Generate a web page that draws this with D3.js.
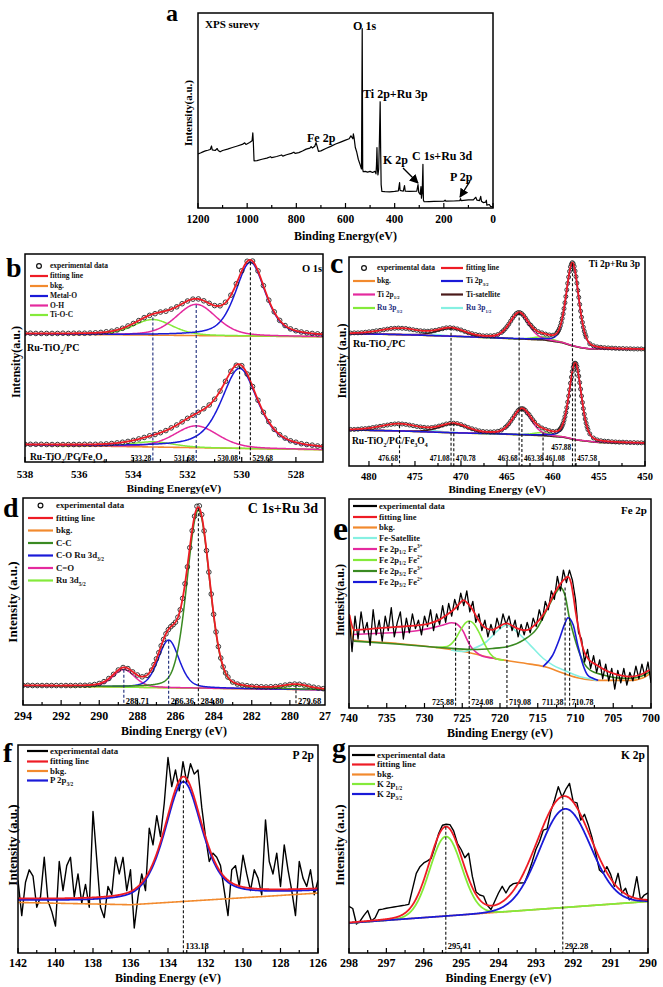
<!DOCTYPE html>
<html><head><meta charset="utf-8">
<script src="https://cdn.jsdelivr.net/npm/d3@7/dist/d3.min.js"></script>
<style>html,body{margin:0;padding:0;background:#fff;}svg{display:block;}</style>
</head><body>
<svg id="fig" width="663" height="987"></svg>
<script>
// ====================== DATA ======================
// (a) survey spectrum: [binding energy, intensity %]
const surveyData = [[1200,27.7],[1190,28.2],[1180,28.8],[1170,29.3],[1160,29.6],[1150,30.0],[1145,31.8],[1142,29.8],[1130,29.5],[1122,30.5],[1118,29.5],[1110,28.8],[1100,29.5],[1080,30.2],[1060,31],[1040,31.8],[1020,32.6],[1010,33.4],[1005,32.6],[990,33.6],[980,34.5],[977,38.5],[975,34],[972,24.2],[960,24.3],[940,25],[920,25.6],[905,26.3],[900,25.8],[880,26.4],[860,27.2],[855,26.6],[840,27.3],[820,28],[810,28.6],[805,28],[790,28.4],[775,29.2],[760,30.2],[745,30.7],[740,31.5],[735,30.8],[725,31.7],[720,33.5],[715,31.5],[710,29],[700,29.3],[680,30.5],[660,31.6],[640,32.8],[620,33.8],[600,34.8],[585,35.5],[578,37],[570,35.5],[568,38],[565,36],[560,31],[555,29],[548,25],[540,22],[535,20],[532,92],[530,20],[528,18.6],[520,18.8],[510,18.4],[500,18.8],[490,18.2],[480,18.8],[476,17.5],[474,22],[472,31],[470,20],[468,17],[465,20],[462,35],[459,54.5],[457,30],[455,12],[452,8.5],[440,8.4],[420,8.3],[400,8.5],[385,8.8],[380,13],[378,9],[365,8.6],[360,11.5],[357,8.6],[340,8.5],[310,8.6],[305,12],[302,8],[296,7],[293,11],[291,5],[288,8],[285,22.4],[283,4],[280,3.2],[260,3.3],[240,3.4],[200,3.5],[195,4],[192,3.5],[160,3.6],[135,3.8],[132,4.8],[130,3.8],[100,4.2],[80,4.2],[70,5.5],[65,4],[55,3.8],[50,6],[47,3.5],[40,2.8],[30,3],[27,4],[25,1.5],[15,1.8],[10,0.8],[0,0.5]];
const surveyTicks = [1200,1000,800,600,400,200,0];
const surveyLabels = [
  {text:"O 1s", E:569, I:91.3},
  {text:"Ti 2p+Ru 3p", E:528.7, I:56.4},
  {text:"Fe 2p", E:756.5, I:33.8},
  {text:"K 2p", E:447.4, I:22.6},
  {text:"C 1s+Ru 3d", E:329.4, I:24.6},
  {text:"P 2p", E:174.8, I:13.8}];
const surveyArrows = [{from:[366,20.5], to:[305,12.8]}, {from:[93.4,13.8], to:[134.1,5.6]}];

// (b) O 1s — experimental data on a 0.2 eV grid from 538 eV downwards
const bTopExp = [61.9,61.9,61.8,61.8,61.8,61.8,61.8,61.9,61.8,61.9,61.9,61.9,62.0,62.1,62.3,62.6,62.9,63.5,64.3,65.4,66.6,68.0,69.4,70.5,71.3,72.1,72.5,73.5,74.6,76.1,77.4,78.3,78.4,77.5,76.3,75.2,75.1,76.8,80.2,85.7,91.9,96.5,96.6,91.9,84.8,77.8,72.2,68.1,65.6,64.0,63.1,62.5,62.1,61.8,61.6,61.4];
const bBotExp = [8.5,8.5,8.5,8.5,8.4,8.4,8.4,8.4,8.4,8.4,8.4,8.5,8.5,8.5,8.6,8.7,8.9,9.2,9.5,9.9,10.4,11.1,11.8,12.6,13.2,14.1,15.1,16.4,17.8,19.3,21.0,22.5,23.9,25.6,27.4,30.2,34.1,38.8,43.6,46.5,46.3,42.3,36.3,29.7,23.9,19.4,15.7,13.1,11.5,10.2,9.5,8.8,8.4,8.1,7.7,7.5];
const bTopBkg = [[538,61.6],[527,60.2]];
const bBotBkg = [[538,8.2],[527,5.9]];
const bTopPeaks = [
  {name:"Ti-O-C", c:533.28, h:7.5, w:1.7, eta:0.3},
  {name:"O-H", c:531.68, h:15.0, w:1.75, eta:0.3},
  {name:"Metal-O", c:529.68, h:35.5, w:1.3, eta:0.5}];
const bBotPeaks = [
  {name:"Ti-O-C", c:533.28, h:2.5, w:1.8, eta:0.3},
  {name:"O-H", c:531.68, h:10.5, w:1.9, eta:0.3},
  {name:"Metal-O", c:530.08, h:38.5, w:1.6, eta:0.6}];
const bTicks = [538,536,534,532,530,528];
const bMarks = [533.28,531.68,530.08,529.68];
const bMarkTops = [69.5,75.5,46,96];

// (c) Ti 2p + Ru 3p — data on a 0.4 eV grid from 482 eV, plus denser points on the peaks
const cTopExp = [63.6,63.7,63.7,63.8,64.0,64.2,64.4,64.7,64.9,65.2,65.5,65.8,65.9,66.0,65.9,65.8,65.5,65.2,64.9,64.7,64.6,64.5,64.7,64.9,65.3,65.7,66.1,66.2,66.0,65.6,65.1,64.4,63.8,63.3,62.9,62.6,62.3,62.3,62.3,62.4,62.9,63.9,65.6,67.9,70.7,72.9,73.4,72.0,69.5,67.3,65.4,64.3,63.7,63.1,62.7,62.6,63.5,67.1,75.3,87.4,96.5,93.3,80.7,68.7,61.7,58.5,57.5,57.0,56.8,56.6,56.5,56.4,56.3,56.2,56.2,56.1,56.1,56.0,56.0,56.0,55.9];
const cTopExtra = [[459.5,64.1],[459.4,64.8],[459.3,65.8],[459.1,68.7],[459.0,70.6],[458.9,72.8],[458.7,78.1],[458.6,81.1],[458.5,84.3],[458.3,90.4],[458.2,93.1],[458.1,95.3],[457.9,97.3],[457.8,96.8],[457.7,95.5],[457.5,90.6],[457.4,87.5],[457.3,84.0],[457.1,77.3],[457.0,74.1],[456.9,71.2],[456.7,66.4],[456.6,64.5],[456.5,63.0],[465.4,64.7],[465.0,66.7],[464.6,69.3],[464.2,71.9],[463.8,73.4],[463.4,72.9],[463.0,70.8],[462.6,68.1],[462.2,66.2]];
const cBotExp = [17.5,17.5,17.6,17.8,17.9,18.1,18.4,18.7,19.0,19.3,19.6,19.9,20.1,20.2,20.1,19.9,19.6,19.3,18.9,18.7,18.5,18.3,18.4,18.7,19.1,19.6,20.1,20.4,20.5,20.3,19.8,19.1,18.4,17.8,17.3,16.8,16.5,16.4,16.3,16.4,16.6,17.2,18.4,20.2,22.7,25.3,27.3,27.3,25.4,23.3,21.0,19.3,18.2,17.5,16.9,16.5,16.6,17.7,21.9,30.6,42.5,49.2,43.0,30.4,20.5,15.4,13.4,12.5,12.1,11.9,11.8,11.6,11.5,11.4,11.4,11.3,11.2,11.2,11.1,11.1,11.1];
const cBotExtra = [[459.3,17.3],[459.1,18.4],[459.0,19.3],[458.9,20.4],[458.7,23.6],[458.6,25.6],[458.5,27.9],[458.3,33.5],[458.2,36.5],[458.1,39.6],[457.9,45.2],[457.8,47.3],[457.7,48.9],[457.5,48.9],[457.4,47.6],[457.3,45.6],[457.1,39.9],[457.0,36.8],[456.9,33.5],[456.7,27.5],[456.6,24.8],[456.5,22.5],[456.3,18.8],[456.2,17.4],[465.0,19.2],[464.6,21.4],[464.2,24.0],[463.8,26.5],[463.4,27.5],[463.0,26.6],[462.6,24.6],[462.2,22.1]];
const cTopBkg = [[482.2,63.3],[476,62.8],[470,61.9],[465,61.0],[461,60.3],[459,59.0],[458,57.6],[457,56.6],[456,56.0],[450,55.8]];
const cBotBkg = [[482.2,17.2],[476.9,16.8],[471.1,15.9],[466,15.3],[461,14.5],[458.8,13.7],[457.4,12.4],[455.2,11.3],[450,10.9]];
const cTopPeaks = [
  {name:"Ru 3p1/2", c:476.68, h:3.0, w:5.0, eta:0.3},
  {name:"Ru 3p3/2", c:461.08, h:1.5, w:2.5, eta:0.3},
  {name:"Ti-satellite", c:471.08, h:3.8, w:3.5, eta:0.3},
  {name:"Ti 2p1/2", c:463.68, h:12.3, w:2.4, eta:0.3},
  {name:"Ti 2p3/2", c:457.88, h:39.5, w:1.6, eta:0.3}];
const cBotPeaks = [
  {name:"Ru 3p1/2", c:476.68, h:3.3, w:5.0, eta:0.3},
  {name:"Ru 3p3/2", c:461.08, h:1.5, w:2.5, eta:0.3},
  {name:"Ti-satellite", c:470.78, h:4.3, w:3.5, eta:0.3},
  {name:"Ti 2p1/2", c:463.38, h:12.2, w:2.4, eta:0.3},
  {name:"Ti 2p3/2", c:457.58, h:36.5, w:1.55, eta:0.3}];
const cTicks = [480,475,470,465,460,455,450];
const cMarks = [476.68,471.08,470.78,463.68,463.38,461.08,457.88,457.58];
const cMarkTops = [19.5,66.2,20.5,73.4,27.3,16,97,49];

// (d) C 1s + Ru 3d — 0.25 eV grid from 294 eV plus flank points
const dExp = [9.5,9.5,9.4,9.4,9.4,9.4,9.4,9.4,9.4,9.4,9.4,9.4,9.5,9.5,9.6,9.9,10.4,11.3,12.8,14.8,16.9,18.1,17.6,16.0,14.5,13.6,14.3,16.9,22.3,28.6,34.4,37.8,40.0,46.0,58.6,76.0,91.2,96.2,84.1,64.2,43.8,28.2,18.4,13.5,11.1,10.1,9.6,9.3,9.0,8.9,8.8,8.7,8.8,8.9,9.2,9.6,9.9,10.1,10.0,9.6,9.1,8.6,8.2,7.9,7.7];
const dExtra = [[287.125,19.5],[286.875,25.3],[286.625,31.7],[286.375,36.4],[286.125,38.8],[285.875,42.4],[285.625,51.5],[285.375,66.7],[285.125,84.2],[284.875,96.0],[284.625,92.0],[284.375,74.6],[284.125,53.6],[283.875,35.3],[283.625,22.7],[283.375,15.5]];
const dBkg = [[294,9.3],[278,7.3]];
const dPeaks = [
  {name:"Ru 3d5/2", c:279.68, h:2.2, w:1.6, eta:0.3},
  {name:"C=O", c:288.71, h:8.5, w:1.35, eta:0.3},
  {name:"C-O", c:286.36, h:23, w:1.3, eta:0.3},
  {name:"C-C", c:284.80, h:86, w:1.4, eta:0.2}];
const dTicks = [294,292,290,288,286,284,282,280,278];
const dMarks = [288.71,286.36,284.80,279.68];
const dMarkTops = [17,31,95,9.6];

// (e) Fe 2p — experimental on a 0.4 eV grid from 740 eV; fitted curves read as points
const eExp = [45,27,44,33,46,36,41,30,47,35, 42,32,44,37,48,34,41,46,33,43, 36,45,38,42,35,44,39,47,37,45, 40,49,41,50,44,52,47,55,49,56, 46,51,41,45,37,42,34,40,35,43, 38,45,40,44,37,42,34,40,35,41, 36,43,39,47,42,51,47,56,52,63, 56,66,60,66,61,52,36,33,22,28, 19,25,17,23,14,21,13,19,9,18, 12,19,11,17,13,20,14,21,15,22, 12];
const eFit = [[739.95,44.5],[739.3,37.3],[736,38.2],[733.7,38.8],[731,39.5],[729.3,40.5],[728,42.3],[727.1,44.5],[726,47.5],[725.2,50.6],[724.85,51.6],[724.4,50.5],[723.7,47.5],[723,43],[722.4,39.8],[721.6,37.8],[721,37.4],[720.3,38.6],[719.5,40.2],[719.1,40.5],[718.5,39.6],[717.8,38.2],[716.8,37.2],[716.2,37.5],[715.4,39.8],[714.3,44.5],[713.6,48.8],[713.0,53.6],[712.4,57.3],[712.1,58.9],[711.5,61.5],[711.0,62.8],[710.6,60],[710.3,54],[710.0,46.5],[709.6,38.1],[709.0,28.5],[708.3,23.5],[707.2,20.6],[706,18],[705,16.6],[704,15.6],[702.8,15.0],[701.5,15.8],[700.2,18.2]];
const eBkg = [[739.95,44.5],[739.4,32.5],[733.7,30.9],[729.3,29.3],[724.85,27.0],[720.45,23.5],[716.0,21.0],[713.8,19.5],[711.6,16.6],[709.4,14.2],[707.2,13.2],[702.8,13.2],[701.0,14.5],[700.1,16.6]];
const eSat = [[726.5,27.8],[724.85,27.0],[723.5,28.5],[721.8,31.7],[720.45,36.5],[719.1,39.7],[717.8,36.5],[716.0,30.1],[714.3,23.8],[713,20.5],[711.6,18.2],[709.4,15.0],[708.1,14.0],[707.2,13.2]];
const eFe3p12 = [[739.4,35.2],[736,35.8],[733.7,36.1],[731,37.0],[729.3,38.1],[727.5,39.7],[726.4,40.8],[725.9,40.5],[725.5,39.5],[724.85,36.5],[724.4,33],[724.0,30.1],[723.1,26.5],[722.2,24.6],[721,23.9],[720.45,23.5]];
const eFe2p12 = [[728.5,28.9],[727.0,29.4],[726.0,32.5],[725.2,37.5],[724.6,40.6],[724.08,41.6],[723.5,40.4],[722.9,37],[722.1,31],[721.3,26],[720.5,23.6],[719.5,22.9]];
const eFe3p32 = [[739.4,32],[733.7,30.6],[729.3,29.3],[726,28.4],[723.5,28],[721,28.5],[719.1,29.3],[716.9,32.5],[715.1,38.1],[713.8,46.9],[712.7,54.4],[712.0,57.6],[711.4,54.1],[710.8,42.9],[710.1,33.3],[709.2,23.8],[708.1,18.2],[706.3,15.8],[703.7,14.2],[702,14.5],[700.1,17.4]];
const eFe2p32 = [[714.3,19.8],[713.0,25.4],[712.1,33.3],[711.4,40.5],[711.0,43.2],[710.3,39.7],[709.7,30.1],[709.0,20.6],[708.4,15.8],[707.7,14.2],[707,13.3]];
const eTicks = [740,735,730,725,720,715,710,705,700];
const eMarks = [725.88,724.08,719.08,711.38,710.78];
const eMarkTops = [40.8,41.6,39.7,57.6,43.2];

// (f) P 2p — 0.2 eV grid from 142 eV
const fExp = [35,18,34,40,37,22,27,46,25,20, 13,44,30,42,46,27,38,24,33,22, 68,45,22,17,32,28,46,38,46,30, 40,12,27,38,30,60,52,66,56,72, 94,80,88,78,92,82,91,86,88,70, 56,44,48,46,42,30,18,40,42,32, 47,38,30,40,36,28,64,44,38,48, 32,52,40,30,18,44,36,32,40,28, 35];
const fBkg = [[142,24.3],[136,23.2],[126,28.8]];
const fPeak = {name:"P 2p3/2", c:133.18, h:58.5, w:2.34, eta:0.5};
const fTicks = [142,140,138,136,134,132,130,128,126];
const fMarks = [133.18];
const fMarkTops = [83];

// (g) K 2p — 0.1 eV grid from 298 eV
const gExp = [22.5,21.5,14,15.5,18.2,20.5,15.5,17,20.9,21.2, 21.6,21.9,22.2,22.5,22.8,23.1,23.5,31,38.5,41.7, 43.5,44.5,45.7,51.3,57.7,61.7,62.2,62,59,53, 50,46,48.2,37,29.5,28,27.5,23,21,25, 29,32.2,29,32.2,33.5,33.8,33.8,34,38.6,44, 50,54,59.4,60,68.5,73.9,80.3,75.3,79,81.9, 73,72.5,64.2,67,62,56,48.2,40.1,38.5,41.7, 38,32.2,38.5,29,31.3,25.7,27.3,36.9,25.7,28, 29];
const gBkg = [[298,14.5],[290,24.9]];
const gFitPeaks = [{c:295.41, h:43, w:1.05, eta:0.1},{c:292.25, h:53.7, w:1.7, eta:0.05}];
const gComps = [{name:"K 2p1/2", c:295.41, h:38.4, w:1.0, eta:0},{name:"K 2p3/2", c:292.22, h:47.6, w:1.6, eta:0}];
const gTicks = [298,297,296,295,294,293,292,291,290];
const gMarks = [295.41,292.28];
const gMarkTops = [61,75.6];

// ====================== STYLE ======================
const FONT = "'Liberation Serif','Times New Roman',Times,serif";
const COL = {red:"#ee1c25", orange:"#f28a2e", blue:"#1a1ad8", magenta:"#e42a9e", lime:"#84ea3a",
             dgreen:"#3a8a22", cyan:"#86f0e2", sat:"#4a1a1a", black:"#111"};
const COLOR_BY = {"Metal-O":COL.blue,"O-H":COL.magenta,"Ti-O-C":COL.lime,
  "Ti 2p3/2":COL.blue,"Ti 2p1/2":COL.magenta,"Ti-satellite":COL.sat,"Ru 3p3/2":COL.lime,"Ru 3p1/2":COL.cyan,
  "C-C":COL.dgreen,"C-O":COL.blue,"C=O":COL.magenta,"Ru 3d5/2":COL.lime,
  "P 2p3/2":COL.blue,"K 2p1/2":COL.lime,"K 2p3/2":COL.blue};

const svg = d3.select("#fig");
svg.append("rect").attr("width",663).attr("height",987).attr("fill","#fff");
const defs = svg.append("defs");
defs.append("marker").attr("id","arrowhead").attr("viewBox","0 0 10 10").attr("refX",9).attr("refY",5)
  .attr("markerWidth",7).attr("markerHeight",7).attr("orient","auto")
  .append("path").attr("d","M0,0 L10,5 L0,10 z").attr("fill","#000");

// ====================== HELPERS ======================
function pv(E, p){ const t=(E-p.c)/p.w; const G=Math.exp(-2.7726*t*t); const L=1/(1+4*t*t); return p.h*(p.eta*L+(1-p.eta)*G); }
function interp(pts){ return d3.scaleLinear().domain(pts.map(d=>d[0])).range(pts.map(d=>d[1])).clamp(true); }
function rich(t, str, fs){
  let off=0;
  str.split(/(_\{[^}]*\}|\^\{[^}]*\})/).forEach(p=>{
    if(!p) return;
    let target=0, size=fs, s=p;
    if(p.startsWith("_{")){target=fs*0.3; size=fs*0.62; s=p.slice(2,-1);}
    else if(p.startsWith("^{")){target=-fs*0.42; size=fs*0.62; s=p.slice(2,-1);}
    t.append("tspan").attr("dy",target-off).attr("font-size",size).text(s);
    off=target;
  });
}
function txt(parent, x, y, str, fs, o={}){
  const t=parent.append("text").attr("x",x).attr("y",y).attr("font-family",FONT).attr("font-weight","bold")
    .attr("font-size",fs).attr("fill",o.fill||"#000").attr("text-anchor",o.anchor||"start");
  rich(t,str,fs); return t;
}
function yTitle(x, yc, s, fs){
  svg.append("text").attr("transform",`translate(${x},${yc}) rotate(-90)`).attr("text-anchor","middle")
    .attr("font-family",FONT).attr("font-weight","bold").attr("font-size",fs).text(s);
}
let clipN=0;
function panel(o){
  const x=d3.scaleLinear().domain(o.dom).range(o.range||[o.x0,o.x1]);
  const y=d3.scaleLinear().domain([0,100]).range([o.y1,o.y0]);
  const id="clip"+(clipN++);
  defs.append("clipPath").attr("id",id).append("rect").attr("x",o.x0).attr("y",o.y0).attr("width",o.x1-o.x0).attr("height",o.y1-o.y0);
  const root=svg.append("g");
  const plot=root.append("g").attr("clip-path",`url(#${id})`);
  return Object.assign({x,y,root,plot},o);
}
function frame(P){
  P.root.append("rect").attr("x",P.x0).attr("y",P.y0).attr("width",P.x1-P.x0).attr("height",P.y1-P.y0)
    .attr("fill","none").attr("stroke","#000").attr("stroke-width",1.5);
}
function xAxis(P, majors, minorStep, fs, labelY, title, titleY, titleFs){
  const lo=d3.min(majors), hi=d3.max(majors);
  const inside=v=>{const xx=P.x(v); return xx>=P.x0-0.6 && xx<=P.x1+0.6;};
  d3.range(lo, hi+1e-6, minorStep).forEach(v=>{ if(!inside(v)) return;
    const isMaj = majors.some(m=>Math.abs(m-v)<1e-6);
    P.root.append("line").attr("x1",P.x(v)).attr("x2",P.x(v)).attr("y1",P.y1).attr("y2",P.y1-(isMaj?5:3))
      .attr("stroke","#000").attr("stroke-width",1.2);
  });
  majors.forEach(v=> txt(P.root, P.x(v), labelY, String(v), fs, {anchor:"middle"}));
  txt(P.root, (P.x0+P.x1)/2, titleY, title, titleFs, {anchor:"middle"});
}
const lineGen = P => d3.line().x(d=>P.x(d[0])).y(d=>P.y(d[1]));
const smoothGen = P => d3.line().x(d=>P.x(d[0])).y(d=>P.y(d[1])).curve(d3.curveMonotoneX);
function path(P, data, color, w, gen){
  P.plot.append("path").datum(data).attr("d",(gen||lineGen(P))).attr("fill","none").attr("stroke",color)
    .attr("stroke-width",w).attr("stroke-linejoin","round");
}
function drawModel(P, bkgPts, peaks, exp, r){
  const bk=interp(bkgPts);
  const lo=d3.min(P.dom), hi=d3.max(P.dom);
  const grid=d3.range(lo, hi+0.001, 0.02);
  path(P, grid.map(E=>[E,bk(E)]), COL.orange, 1.6);
  peaks.forEach(p=> path(P, grid.map(E=>[E,bk(E)+pv(E,p)]), COLOR_BY[p.name], 1.5));
  P.plot.selectAll(null).data(exp).join("circle").attr("cx",d=>P.x(d[0])).attr("cy",d=>P.y(d[1])).attr("r",r)
    .attr("fill","none").attr("stroke","#222").attr("stroke-width",0.9);
  path(P, grid.map(E=>[E,bk(E)+d3.sum(peaks,p=>pv(E,p))]), COL.red, 1.8);
}
function marks(P, Es, tops, sides, labelY, fs, colors, extraY){
  Es.forEach((E,i)=>{
    const xx=P.x(E);
    P.root.append("line").attr("x1",xx).attr("x2",xx).attr("y1",P.y(tops[i])).attr("y2",P.y1)
      .attr("stroke",(colors&&colors[i])||"#111").attr("stroke-width",1.1).attr("stroke-dasharray","3,2");
    const yy = labelY - ((extraY&&extraY[i])||0);
    txt(P.root, sides[i]==="L"? xx-1.5 : xx+2, yy, E.toFixed(2), fs, {anchor: sides[i]==="L"?"end":"start"});
  });
}
function legend(P, items, lx0, lx1, tx, ys, fs){
  items.forEach((it,i)=>{
    const yy=ys[i];
    if(it.type==="circle"){
      P.root.append("circle").attr("cx",(lx0+lx1)/2).attr("cy",yy).attr("r",2.4).attr("fill","none").attr("stroke","#111").attr("stroke-width",1.2);
    } else {
      P.root.append("line").attr("x1",lx0).attr("x2",lx1).attr("y1",yy).attr("y2",yy).attr("stroke",it.color).attr("stroke-width",2.2);
    }
    txt(P.root, tx, yy+fs*0.33, it.label, fs, {fill: it.textColor||"#111"});
  });
}
const asPairs = (vals, start, step) => vals.map((v,i)=>[start - step*i, v]);

// ====================== (a) SURVEY ======================
{
  const P=panel({x0:198,x1:493,y0:13,y1:208,dom:[1200,0]});
  path(P, surveyData, "#000", 1.2);
  surveyLabels.forEach(l=> txt(P.root, P.x(l.E), P.y(l.I), l.text, 12));
  txt(P.root, P.x0+7, P.y0+15, "XPS surevy", 11);
  surveyArrows.forEach(a=> P.root.append("line").attr("x1",P.x(a.from[0])).attr("y1",P.y(a.from[1]))
    .attr("x2",P.x(a.to[0])).attr("y2",P.y(a.to[1])).attr("stroke","#000").attr("stroke-width",1.3).attr("marker-end","url(#arrowhead)"));
  frame(P);
  xAxis(P, surveyTicks, 100, 11.5, 223, "Binding Energy(eV)", 240, 12);
  yTitle(192, 113, "Intensity(a.u.)", 11);
  txt(svg, 166, 21, "a", 24);
}

// ====================== (b) O 1s ======================
{
  const P=panel({x0:25,x1:323,y0:254,y1:462,dom:[538,527]});
  drawModel(P, bTopBkg, bTopPeaks, asPairs(bTopExp,538,0.2), 2.3);
  drawModel(P, bBotBkg, bBotPeaks, asPairs(bBotExp,538,0.2), 2.3);
  marks(P, bMarks, bMarkTops, ["L","L","L","R"], 461, 7.5, ["#1b2a7a","#1b2a7a","#111","#111"]);
  frame(P);
  xAxis(P, bTicks, 1, 11, 478, "Binding Energy(eV)", 492, 11);
  legend(P, [{type:"circle",label:"experimental data"},{label:"fitting line",color:COL.red},{label:"bkg.",color:COL.orange},
    {label:"Metal-O",color:COL.blue},{label:"O-H",color:COL.magenta},{label:"Ti-O-C",color:COL.lime}],
    30, 48, 50, [266,276,286,296,305.5,315], 7.5);
  txt(P.root, 302, 272, "O 1s", 10.5);
  txt(P.root, 27, 351, "Ru-TiO_{2}/PC", 10);
  txt(P.root, 30, 460, "Ru-TiO_{2}/PC/Fe_{3}O_{4}", 9.5);
  yTitle(20, 362, "Intensity(a.u.)", 12);
  txt(svg, 6, 277, "b", 28);
}

// ====================== (c) Ti 2p + Ru 3p ======================
{
  const P=panel({x0:349,x1:645,y0:257,y1:466,dom:[482.17,450]});
  drawModel(P, cTopBkg, cTopPeaks, asPairs(cTopExp,482,0.4).concat(cTopExtra), 2.0);
  drawModel(P, cBotBkg, cBotPeaks, asPairs(cBotExp,482,0.4).concat(cBotExtra), 2.0);
  marks(P, cMarks, cMarkTops, ["L","L","R","L","R","R","L","R"], 460.5, 7.2, null, [0,0,0,0,0,0,11,0]);
  frame(P);
  xAxis(P, cTicks, 2.5, 10.5, 480, "Binding Energy (eV)", 493, 11);
  legend(P, [{type:"circle",label:"experimental data"},{label:"bkg.",color:COL.orange},
    {label:"Ti 2p_{1/2}",color:COL.magenta},{label:"Ru 3p_{3/2}",color:COL.lime,textColor:"#1a2a7a"}],
    353, 375, 377, [268,281,294.5,308], 7.5);
  legend(P, [{label:"fitting line",color:COL.red},{label:"Ti 2p_{3/2}",color:COL.blue},
    {label:"Ti-satellite",color:COL.sat},{label:"Ru 3p_{1/2}",color:COL.cyan,textColor:"#1a2a7a"}],
    441, 463, 466, [268,281,294.5,308], 7.5);
  txt(P.root, 640, 267, "Ti 2p+Ru 3p", 9.5, {anchor:"end"});
  txt(P.root, 353, 347, "Ru-TiO_{2}/PC", 10);
  txt(P.root, 352, 444, "Ru-TiO_{2}/PC/Fe_{3}O_{4}", 9.5);
  yTitle(346, 361, "Intensity (a.u.)", 12);
  txt(svg, 330, 273, "c", 30);
}

// ====================== (d) C 1s + Ru 3d ======================
{
  const P=panel({x0:23,x1:325,y0:498,y1:705,dom:[294,278],range:[23,328]});
  drawModel(P, dBkg, dPeaks, asPairs(dExp,294,0.25).concat(dExtra), 2.3);
  marks(P, dMarks, dMarkTops, ["R","R","R","R"], 703.5, 8.5, ["#1b2a7a","#1b2a7a","#111","#111"]);
  frame(P);
  xAxis(P, dTicks, 1, 12, 720, "Binding Energy (eV)", 735, 12);
  legend(P, [{type:"circle",label:"experimental data"},{label:"fitting line",color:COL.red},{label:"bkg.",color:COL.orange},
    {label:"C-C",color:COL.dgreen},{label:"C-O Ru 3d_{3/2}",color:COL.blue},{label:"C=O",color:COL.magenta},{label:"Ru 3d_{5/2}",color:COL.lime}],
    28, 53, 56, [505.5,518,530.5,543,555.5,568,580.5], 8.8);
  txt(P.root, 318, 513, "C 1s+Ru 3d", 14, {anchor:"end"});
  yTitle(17, 602, "Intensity (a.u.)", 13);
  txt(svg, 3, 517, "d", 28);
}

// ====================== (e) Fe 2p ======================
svg.append("rect").attr("x",331).attr("y",497).attr("width",332).attr("height",248).attr("fill","#fff");
{
  const P=panel({x0:349,x1:651,y0:499,y1:708,dom:[740,700]});
  const sg=smoothGen(P);
  path(P, eBkg, COL.orange, 1.6, sg);
  path(P, eSat, COL.cyan, 1.6, sg);
  path(P, eFe3p12, COL.magenta, 1.6, sg);
  path(P, eFe2p12, COL.lime, 1.6, sg);
  path(P, eFe3p32, COL.dgreen, 1.6, sg);
  path(P, eFe2p32, COL.blue, 1.6, sg);
  path(P, asPairs(eExp,740,0.4), "#000", 1.3);
  path(P, eFit, COL.red, 1.8, sg);
  marks(P, eMarks, eMarkTops, ["L","R","R","L","R"], 705, 8, null);
  frame(P);
  xAxis(P, eTicks, 2.5, 12, 722, "Binding Energy (eV)", 737, 12);
  legend(P, [{label:"experimental data",color:"#000"},{label:"fitting line",color:COL.red},{label:"bkg.",color:COL.orange},
    {label:"Fe-Satellite",color:COL.cyan},{label:"Fe 2p_{1/2}  Fe^{3+}",color:COL.magenta},{label:"Fe 2p_{1/2}  Fe^{2+}",color:COL.lime},
    {label:"Fe 2p_{3/2}  Fe^{3+}",color:COL.dgreen},{label:"Fe 2p_{3/2}  Fe^{2+}",color:COL.blue}],
    353, 377, 379, [506,517,527.5,538,549,560,571,582], 8.5);
  txt(P.root, 647, 514, "Fe 2p", 11, {anchor:"end"});
  yTitle(344, 600, "Intensity(a.u.)", 12);
  txt(svg, 333, 540, "e", 34);
}

// ====================== (f) P 2p ======================
{
  const P=panel({x0:18,x1:318,y0:745,y1:953,dom:[142,126]});
  const bk=interp(fBkg);
  const grid=d3.range(126,142.001,0.02);
  path(P, asPairs(fExp,142,0.2), "#000", 1.4);
  path(P, grid.map(E=>[E,bk(E)]), COL.orange, 1.6);
  path(P, grid.map(E=>[E,bk(E)+0.97*pv(E,fPeak)+0.8]), COL.blue, 1.8);
  path(P, grid.map(E=>[E,bk(E)+pv(E,fPeak)+1.5]), COL.red, 1.8);
  marks(P, fMarks, fMarkTops, ["R"], 949, 8.5, null);
  frame(P);
  xAxis(P, fTicks, 1, 12, 967, "Binding Energy (eV)", 982, 12);
  legend(P, [{label:"experimental data",color:"#000"},{label:"fitting line",color:COL.red},{label:"bkg.",color:COL.orange},
    {label:"P 2p_{3/2}",color:COL.blue}], 27, 48, 50, [751,761.5,771,780.5], 8.8);
  txt(P.root, 314, 759, "P 2p", 11.5, {anchor:"end"});
  yTitle(17, 845, "Intensity (a.u.)", 13);
  txt(svg, 3, 762, "f", 28);
}

// ====================== (g) K 2p ======================
{
  const P=panel({x0:349,x1:648,y0:746,y1:953,dom:[298,290]});
  const bk=interp(gBkg);
  const grid=d3.range(290,298.001,0.01);
  path(P, asPairs(gExp,298,0.1), "#000", 1.4);
  path(P, grid.map(E=>[E,bk(E)]), COL.orange, 1.6);
  path(P, grid.map(E=>[E,bk(E)+pv(E,gComps[0])]), COL.lime, 1.8);
  path(P, grid.map(E=>[E,bk(E)+pv(E,gComps[1])]), COL.blue, 1.8);
  path(P, grid.map(E=>[E,bk(E)+d3.sum(gFitPeaks,p=>pv(E,p))]), COL.red, 1.8);
  marks(P, gMarks, gMarkTops, ["R","R"], 949, 8.5, null);
  frame(P);
  xAxis(P, gTicks, 0.5, 12, 967, "Binding Energy (eV)", 982, 12);
  legend(P, [{label:"experimental data",color:"#000"},{label:"fitting line",color:COL.red},{label:"bkg.",color:COL.orange},
    {label:"K 2p_{1/2}",color:COL.lime},{label:"K 2p_{3/2}",color:COL.blue}], 352, 375, 377, [755,764.5,774.5,784,794], 8.8);
  txt(P.root, 645, 759, "K 2p", 11.5, {anchor:"end"});
  yTitle(344, 845, "Intensity (a.u.)", 13);
  txt(svg, 332, 757, "g", 28);
}
</script>
</body></html>
